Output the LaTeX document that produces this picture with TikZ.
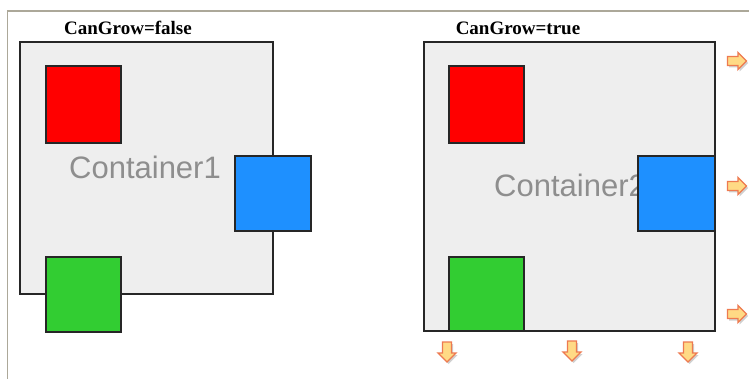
\documentclass[tikz,border=0pt]{standalone}
\usepackage{fontspec}
\setmainfont{Liberation Serif}
\newfontfamily\arialf{Liberation Sans}
\usetikzlibrary{shadows}
\definecolor{cfill}{HTML}{EEEEEE}
\definecolor{redb}{HTML}{FF0000}
\definecolor{blueb}{HTML}{1E90FF}
\definecolor{greenb}{HTML}{32CD32}
\definecolor{framec}{HTML}{ACA899}
\definecolor{arrfill}{HTML}{FFDA85}
\definecolor{arrline}{HTML}{EE7A50}
\definecolor{labelc}{HTML}{8E8E8E}
\tikzset{
  box/.style={draw=black!85, line width=1.2pt, inner sep=0pt, anchor=north west, outer sep=0pt},
  cont/.style={box, fill=cfill},
  title/.style={font=\bfseries\fontsize{19}{19}\selectfont, inner sep=0pt},
  clabel/.style={font=\arialf\fontsize{31}{31}\selectfont, text=labelc, inner sep=0pt},
  growarrow/.style={fill=arrfill, draw=arrline, line width=1.3pt, line join=miter,
    drop shadow={shadow xshift=1.5pt, shadow yshift=-2pt, opacity=0.3, fill=black!60}},
  pics/rarrow/.style={code={
    \path[growarrow] (-9.5,-4.5) -- (1,-4.5) -- (1,-8.5) -- (9.5,0) -- (1,8.5) -- (1,4.5) -- (-9.5,4.5) -- cycle;}},
  pics/darrow/.style={code={
    \path[growarrow] (-4.5,-10) -- (-4.5,1) -- (-9,1) -- (0,10) -- (9,1) -- (4.5,1) -- (4.5,-10) -- cycle;}}
}
\begin{document}
\begin{tikzpicture}[x=1pt,y=-1pt]
\useasboundingbox (0,0) rectangle (749,379);
\fill[white] (0,0) rectangle (749,379);
\draw[framec, line width=1.3pt] (7.5,379) -- (7.5,11) -- (749,11);

% left
\node[title] (t1) at (128,28) {CanGrow=false};
\node[cont, minimum width=253pt, minimum height=252pt] (c1) at (20,42) {};
\node[clabel] (l1) at (145,167) {Container1};
\node[box, fill=redb, minimum width=75pt, minimum height=77pt] (r1) at (46,66) {};
\node[box, fill=blueb, minimum width=76pt, minimum height=75pt] (b1) at (235,156) {};
\node[box, fill=greenb, minimum width=75pt, minimum height=75pt] (g1) at (46,257) {};

% right
\node[title] (t2) at (518,28) {CanGrow=true};
\node[cont, minimum width=291pt, minimum height=289pt] (c2) at (424,42) {};
\node[clabel, anchor=west] (l2) at (494,185) {Container2};
\node[box, fill=redb, minimum width=75pt, minimum height=77pt] (r2) at (449,66) {};
\node[box, fill=blueb, minimum width=77pt, minimum height=75pt] (b2) at (638,156) {};
\node[box, fill=greenb, minimum width=75pt, minimum height=74pt] (g2) at (449,257) {};

% growth arrows
\pic at (737,61) {rarrow};
\pic at (737,186) {rarrow};
\pic at (737,314) {rarrow};
\pic at (447,352) {darrow};
\pic at (572,351) {darrow};
\pic at (688,352) {darrow};
\end{tikzpicture}
\end{document}
